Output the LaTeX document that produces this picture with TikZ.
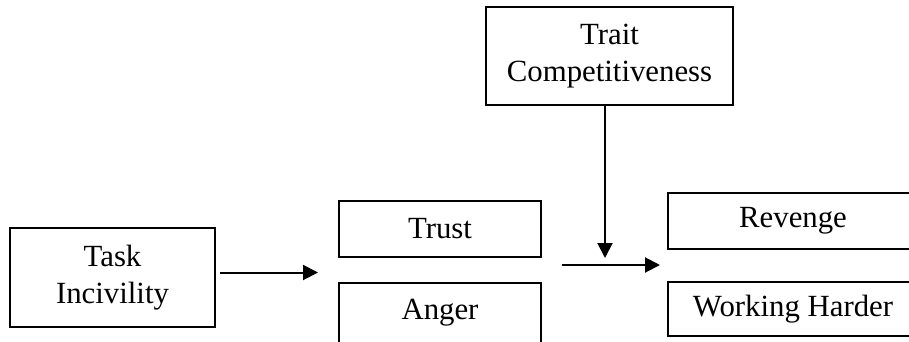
\documentclass[tikz,border=0pt]{standalone}
\usepackage{fontspec}
\setmainfont{Liberation Serif}
\usetikzlibrary{arrows.meta}

\begin{document}
\begin{tikzpicture}[->,>={Triangle[length=7.5pt,width=7.5pt]},x=0.5pt,y=-0.5pt,line width=1pt,node distance=42pt]
  \tikzstyle{every node}=[font=\fontsize{15.4}{18.5}\selectfont]
  \tikzstyle{box}=[rectangle,draw=black,inner sep=0pt,align=center]

  \useasboundingbox (0,0) rectangle (909,342);

  \node[box,minimum width=102.5pt,minimum height=49.5pt] (task) at (112.5,277.5) {Task\\Incivility};
  \node[box,minimum width=123.5pt,minimum height=49pt] (trait) at (609.5,56) {Trait\\Competitiveness};
  \node[box,minimum width=101pt,minimum height=28pt] (trust) at (440,229) {Trust};
  \node[box,minimum width=101pt,minimum height=30pt] (anger) [below of=trust] {Anger};
  \node[box,minimum width=125pt,minimum height=28pt] (revenge) at (793,221) {Revenge};
  \node[box,minimum width=125pt,minimum height=27pt] (harder) [below of=revenge,node distance=44pt] {Working Harder};

  \coordinate (split) at (318,272.5);
  \coordinate (join) at (562,265);
  \coordinate (joined) at (660,265);
  \coordinate (moderate) at (605,258);

  \path (task.east |- split) edge[shorten <=2pt] (split)
	(join) edge (joined)
	(trait.south -| moderate) edge (moderate);
\end{tikzpicture}
\end{document}
